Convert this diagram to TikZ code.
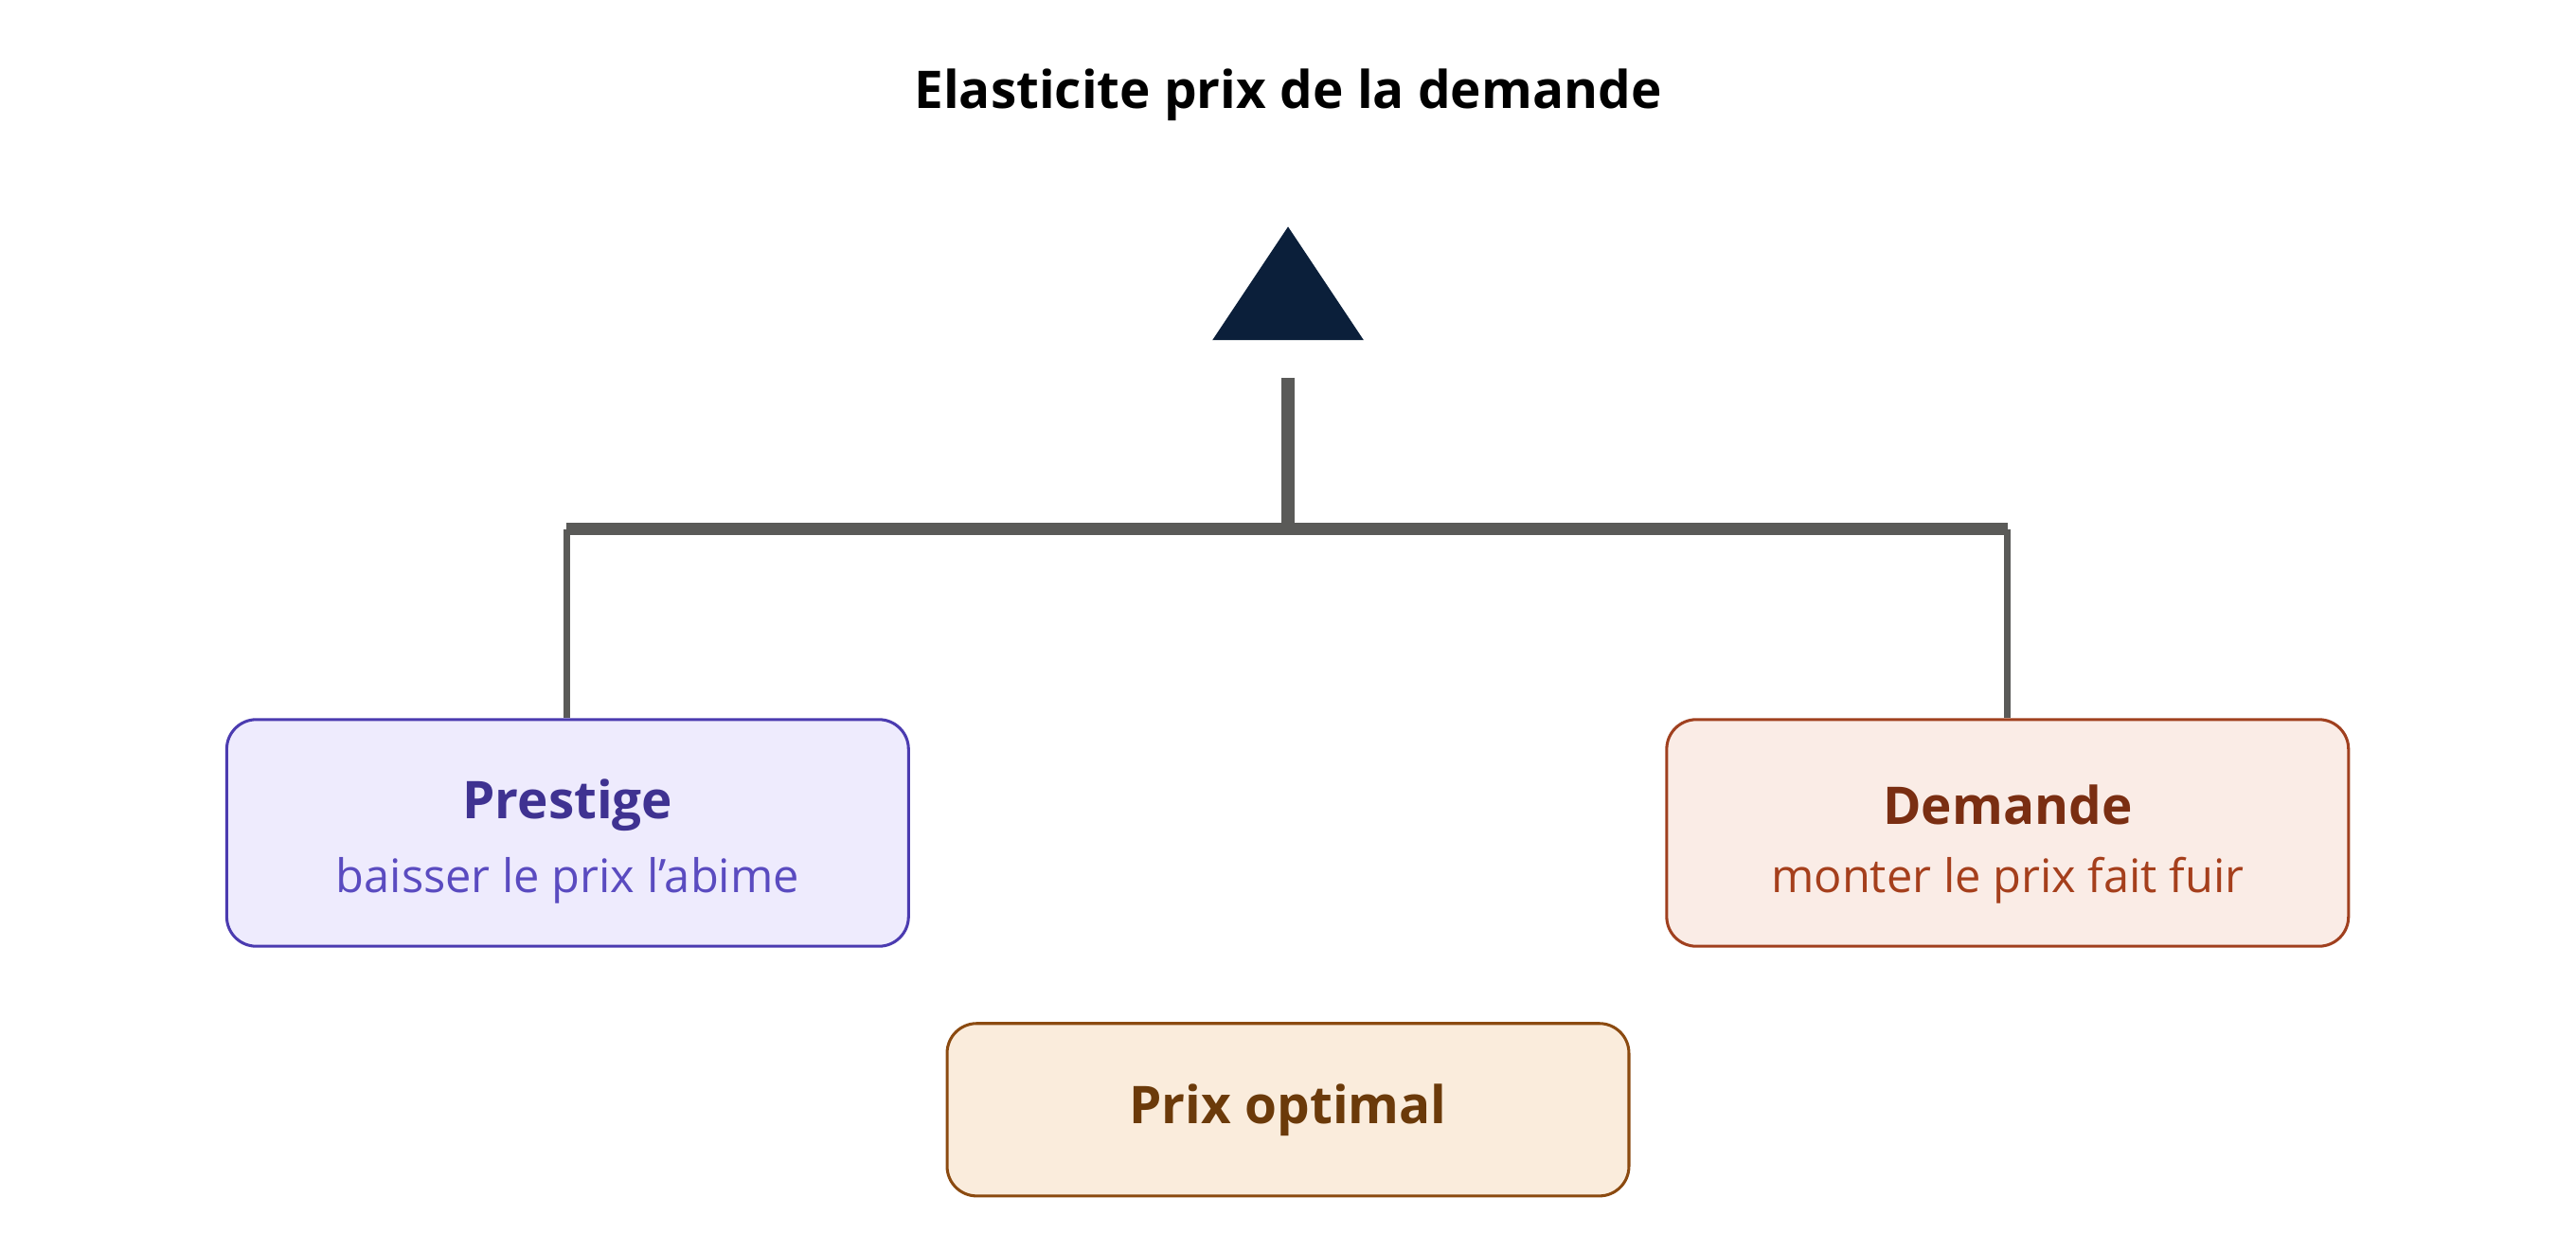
\documentclass[tikz,border=0pt]{standalone}
\usepackage{fontspec}
\setmainfont{Open Sans}
\usetikzlibrary{positioning}
\definecolor{navy}{HTML}{0B1F3A}
\definecolor{stem}{HTML}{5A5A58}
\definecolor{prfill}{HTML}{EEEBFD}
\definecolor{prdraw}{HTML}{4B3BB0}
\definecolor{prhead}{HTML}{3F3291}
\definecolor{prtext}{HTML}{5A4BC0}
\definecolor{dmfill}{HTML}{FAECE6}
\definecolor{dmdraw}{HTML}{A0401F}
\definecolor{dmhead}{HTML}{7A2E12}
\definecolor{dmtext}{HTML}{A53F1C}
\definecolor{opfill}{HTML}{FAECDC}
\definecolor{opdraw}{HTML}{8B4A10}
\definecolor{ophead}{HTML}{6B3A0A}

\begin{document}
\begin{tikzpicture}[
          box/.style={
            rectangle,
            rounded corners=0.18cm,
            line width=0.5pt,
            minimum width=4.15cm,
            inner sep=0pt
          },
          head/.style={font=\fontsize{9}{11}\selectfont\bfseries},
          sub/.style={font=\fontsize{8}{10}\selectfont},
          bar/.style={draw=stem,line width=2pt}
        ]
        \useasboundingbox (0,0) rectangle (15.68,7.61);
        \node (title) at (7.84,7.03) {\fontsize{9}{11}\selectfont\bfseries Elasticite prix de la demande};
        \fill [navy] (7.84,6.23) -- (8.30,5.54) -- (7.38,5.54) -- cycle;
        \coordinate (top) at (7.84,5.31);
        \coordinate (mid) at (7.84,4.39);
        \coordinate (left) at (3.45,4.39);
        \coordinate (right) at (12.22,4.39);
        \node (prestige) at (3.455,2.54) [box,minimum height=1.38cm,draw=prdraw,fill=prfill] {};
        \node at (3.455,2.71) [head,text=prhead] {Prestige};
        \node at (3.455,2.25) [sub,text=prtext] {baisser le prix l\symbol{39}abime};
        \node (demande) at (12.22,2.54) [box,minimum height=1.38cm,draw=dmdraw,fill=dmfill] {};
        \node at (12.22,2.71) [head,text=dmhead] {Demande};
        \node at (12.22,2.25) [sub,text=dmtext] {monter le prix fait fuir};
        \node (optimal) at (7.84,0.855) [box,minimum height=1.05cm,draw=opdraw,fill=opfill,head,text=ophead] {Prix optimal};
        \draw [bar,line width=2.2pt] (top) -- (mid);
        \draw [bar] (left) -- (right);
        \draw [bar,line width=1.2pt] (left) -- (prestige.north -| left);
        \draw [bar,line width=1.2pt] (right) -- (demande.north -| right);
      \end{tikzpicture}
\end{document}
